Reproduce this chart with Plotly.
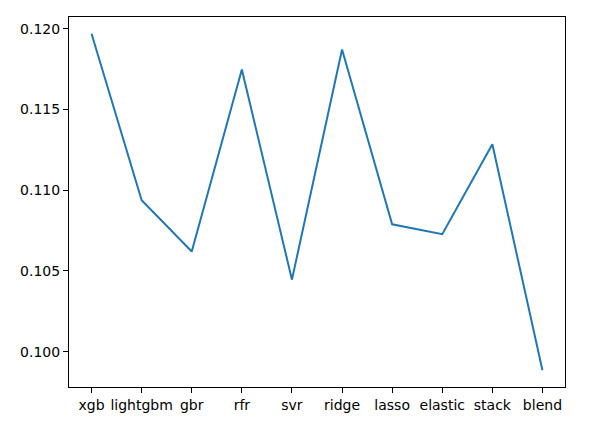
import plotly.graph_objects as go

models = ["xgb", "lightgbm", "gbr", "rfr", "svr", "ridge", "lasso", "elastic", "stack", "blend"]
scores = [0.11969, 0.10938, 0.10620, 0.11748, 0.10446, 0.11872, 0.10789, 0.10728, 0.11285, 0.09885]
y_ticks = [0.100, 0.105, 0.110, 0.115, 0.120]

fig = go.Figure()
fig.add_trace(go.Scatter(x=list(range(len(models))), y=scores, mode="lines",
                         line=dict(color="#1f77b4", width=2)))

axis_style = dict(showline=True, linecolor="black", linewidth=1, mirror=True,
                  showgrid=False, zeroline=False, ticks="outside", ticklen=5,
                  tickcolor="black", tickfont=dict(family="DejaVu Sans", size=14, color="black"))

fig.update_xaxes(range=[-0.45, 9.45], tickvals=list(range(len(models))), ticktext=models, **axis_style)
fig.update_yaxes(range=[0.09781, 0.12073], tickvals=y_ticks,
                 ticktext=[f"{v:.3f}" for v in y_ticks], **axis_style)

# page body adds an 8px margin, so the figure is a bit smaller than the window
fig.update_layout(width=582, height=418, showlegend=False,
                  margin=dict(l=61, r=25, t=9, b=39),
                  plot_bgcolor="white", paper_bgcolor="white")

fig.write_html("out.html")
